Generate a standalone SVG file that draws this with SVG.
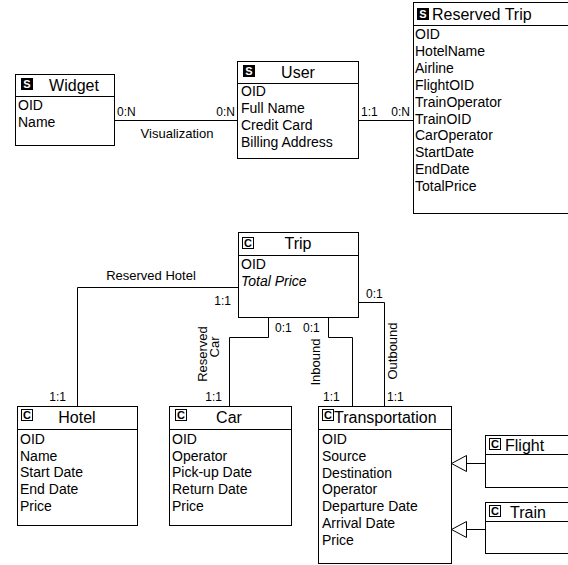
<svg xmlns="http://www.w3.org/2000/svg" width="568" height="565" viewBox="0 0 568 565">
<style>
text{font-family:"Liberation Sans",Arial,sans-serif;fill:#000}
.box{fill:#fff;stroke:#000;stroke-width:1}
.sep{stroke:#000;stroke-width:1}
.a{font-size:14px}
.h{font-size:16px}
.l{font-size:12px}
.r{font-size:13px}
.si{fill:#000}
.st{font-size:11px;font-weight:bold;fill:#fff;text-anchor:middle}
.ci{fill:#fff;stroke:#000;stroke-width:1}
.ct{font-size:11px;font-weight:bold;text-anchor:middle}
.conn path{fill:none;stroke:#000;stroke-width:1}
.gen{fill:#fff;stroke:#000;stroke-width:1}
</style>
<rect width="568" height="565" fill="#fff"/>
<g id="connectors" class="conn">
<path d="M114.5 120.5H237.5"/>
<path d="M358.5 120.5H413.5"/>
<path d="M238.5 287.5H77.5V406.5"/>
<path d="M268.5 317.5V337.5H229.5V406.5"/>
<path d="M328.5 317.5V337.5H352.5V406.5"/>
<path d="M358.5 302.5H384.5V406.5"/>
<path d="M466.5 463.5H485.5"/>
<path d="M466.5 529.5H485.5"/>
<polygon class="gen" points="451.5,463.5 466.5,455.5 466.5,471.5"/>
<polygon class="gen" points="451.5,529.5 466.5,521.5 466.5,537.5"/>
</g>
<g id="labels" class="l">
<text x="117" y="116">0:N</text>
<text x="235" y="116" text-anchor="end">0:N</text>
<text class="r" x="177" y="138" text-anchor="middle">Visualization</text>
<text x="361" y="116">1:1</text>
<text x="410" y="116" text-anchor="end">0:N</text>
<text class="r" x="151" y="280" text-anchor="middle">Reserved Hotel</text>
<text x="231" y="305" text-anchor="end">1:1</text>
<text x="66" y="401" text-anchor="end">1:1</text>
<text x="275" y="332">0:1</text>
<text x="303" y="332">0:1</text>
<text x="366" y="298">0:1</text>
<text x="222" y="401" text-anchor="end">1:1</text>
<text x="323" y="401">1:1</text>
<text x="387" y="401">1:1</text>
<text class="r" transform="translate(207 354) rotate(-90)" text-anchor="middle">Reserved</text>
<text class="r" transform="translate(219 347) rotate(-90)" text-anchor="middle">Car</text>
<text class="r" transform="translate(320 362) rotate(-90)" text-anchor="middle">Inbound</text>
<text class="r" transform="translate(397 351) rotate(-90)" text-anchor="middle">Outbound</text>
</g>
<g id="widget">
<rect class="box" x="15.5" y="74.5" width="99" height="71"/>
<line class="sep" x1="15.5" y1="96.5" x2="114.5" y2="96.5"/>
<rect class="si" x="21" y="78" width="12" height="12"/>
<text class="st" x="27" y="88">S</text>
<text class="h" x="74" y="91" text-anchor="middle">Widget</text>
<text class="a" x="18" y="110">OID</text>
<text class="a" x="18" y="127">Name</text>
</g>
<g id="user">
<rect class="box" x="237.5" y="61.5" width="121" height="97"/>
<line class="sep" x1="237.5" y1="83.5" x2="358.5" y2="83.5"/>
<rect class="si" x="243" y="65" width="12" height="12"/>
<text class="st" x="249" y="75">S</text>
<text class="h" x="298" y="78" text-anchor="middle">User</text>
<text class="a" x="241" y="96">OID</text>
<text class="a" x="241" y="113">Full Name</text>
<text class="a" x="241" y="130">Credit Card</text>
<text class="a" x="241" y="147">Billing Address</text>
</g>
<g id="reserved-trip">
<rect class="box" x="413.5" y="2.5" width="160" height="211"/>
<line class="sep" x1="413.5" y1="25.5" x2="573.5" y2="25.5"/>
<rect class="si" x="417" y="8" width="12" height="12"/>
<text class="st" x="423" y="18">S</text>
<text class="h" x="432" y="20">Reserved Trip</text>
<text class="a" x="415" y="39">OID</text>
<text class="a" x="415" y="56">HotelName</text>
<text class="a" x="415" y="73">Airline</text>
<text class="a" x="415" y="90">FlightOID</text>
<text class="a" x="415" y="107">TrainOperator</text>
<text class="a" x="415" y="124">TrainOID</text>
<text class="a" x="415" y="140">CarOperator</text>
<text class="a" x="415" y="157">StartDate</text>
<text class="a" x="415" y="174">EndDate</text>
<text class="a" x="415" y="191">TotalPrice</text>
</g>
<g id="trip">
<rect class="box" x="238.5" y="232.5" width="120" height="85"/>
<line class="sep" x1="238.5" y1="255.5" x2="358.5" y2="255.5"/>
<rect class="ci" x="242.5" y="237.5" width="11" height="11"/>
<text class="ct" x="248" y="247">C</text>
<text class="h" x="298" y="249" text-anchor="middle">Trip</text>
<text class="a" x="241" y="269">OID</text>
<text class="a" x="241" y="286" font-style="italic">Total Price</text>
</g>
<g id="hotel">
<rect class="box" x="17.5" y="406.5" width="120" height="119"/>
<line class="sep" x1="17.5" y1="429.5" x2="137.5" y2="429.5"/>
<rect class="ci" x="21.5" y="409.5" width="11" height="11"/>
<text class="ct" x="27" y="419">C</text>
<text class="h" x="77" y="423" text-anchor="middle">Hotel</text>
<text class="a" x="20" y="444">OID</text>
<text class="a" x="20" y="461">Name</text>
<text class="a" x="20" y="477">Start Date</text>
<text class="a" x="20" y="494">End Date</text>
<text class="a" x="20" y="511">Price</text>
</g>
<g id="car">
<rect class="box" x="169.5" y="406.5" width="122" height="119"/>
<line class="sep" x1="169.5" y1="429.5" x2="291.5" y2="429.5"/>
<rect class="ci" x="175.5" y="409.5" width="11" height="11"/>
<text class="ct" x="181" y="419">C</text>
<text class="h" x="229" y="423" text-anchor="middle">Car</text>
<text class="a" x="172" y="444">OID</text>
<text class="a" x="172" y="461">Operator</text>
<text class="a" x="172" y="477">Pick-up Date</text>
<text class="a" x="172" y="494">Return Date</text>
<text class="a" x="172" y="511">Price</text>
</g>
<g id="transportation">
<rect class="box" x="318.5" y="406.5" width="133" height="157"/>
<line class="sep" x1="318.5" y1="429.5" x2="451.5" y2="429.5"/>
<rect class="ci" x="322.5" y="409.5" width="11" height="11"/>
<text class="ct" x="328" y="419">C</text>
<text class="h" x="334" y="423">Transportation</text>
<text class="a" x="322" y="444">OID</text>
<text class="a" x="322" y="461">Source</text>
<text class="a" x="322" y="478">Destination</text>
<text class="a" x="322" y="494">Operator</text>
<text class="a" x="322" y="511">Departure Date</text>
<text class="a" x="322" y="528">Arrival Date</text>
<text class="a" x="322" y="545">Price</text>
</g>
<g id="flight">
<rect class="box" x="485.5" y="435.5" width="100" height="52"/>
<line class="sep" x1="485.5" y1="454.5" x2="585.5" y2="454.5"/>
<rect class="ci" x="489.5" y="438.5" width="11" height="11"/>
<text class="ct" x="495" y="448">C</text>
<text class="h" x="505" y="451">Flight</text>
</g>
<g id="train">
<rect class="box" x="485.5" y="502.5" width="100" height="51"/>
<line class="sep" x1="485.5" y1="521.5" x2="585.5" y2="521.5"/>
<rect class="ci" x="489.5" y="505.5" width="11" height="11"/>
<text class="ct" x="495" y="515">C</text>
<text class="h" x="510" y="518">Train</text>
</g>
</svg>
